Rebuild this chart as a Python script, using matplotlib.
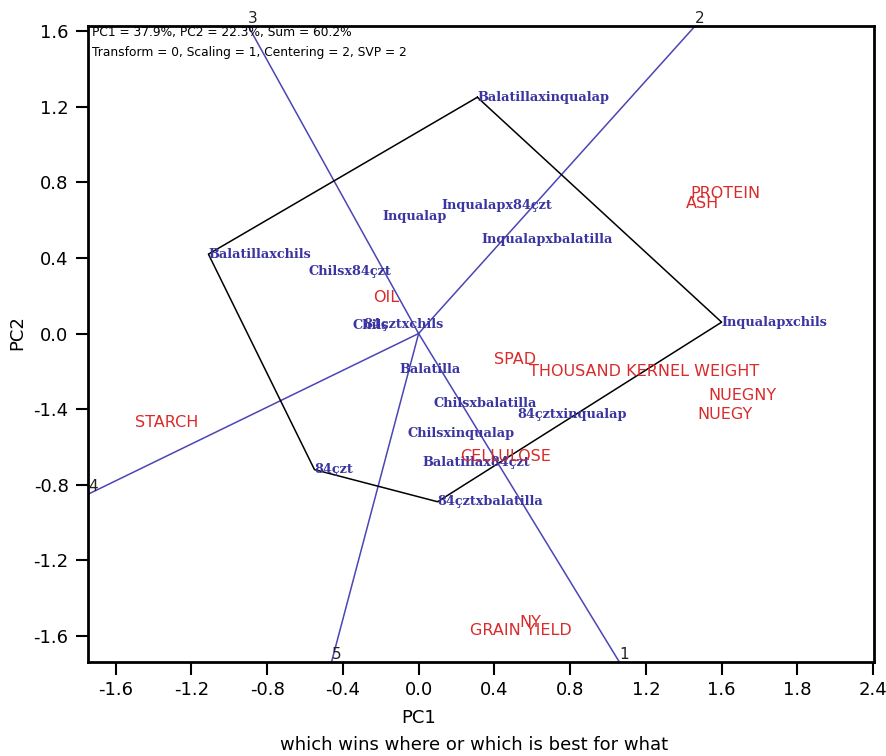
import matplotlib.pyplot as plt

# genotype scores (label anchor = point)
gen_names = ["Balatillaxinqualap", "Inqualapxchils", "84çztxbalatilla", "84çzt",
             "Balatillaxchils", "Inqualap", "Inqualapx84çzt", "Inqualapxbalatilla",
             "Chilsx84çzt", "Chils", "84çztxchils", "Balatilla", "Chilsxbalatilla",
             "84çztxinqualap", "Chilsxinqualap", "Balatillax84çzt"]
gen_x = [0.31, 1.60, 0.10, -0.55, -1.11, -0.19, 0.12, 0.33,
         -0.58, -0.35, -0.29, -0.10, 0.08, 0.52, -0.06, 0.02]
gen_y = [1.25, 0.06, -0.89, -0.72, 0.42, 0.62, 0.68, 0.50,
         0.33, 0.04, 0.05, -0.19, -0.37, -0.43, -0.53, -0.68]

# convex hull order (indices into gen_names)
hull = [0, 1, 2, 3, 4, 0]

# trait / environment scores
trait_names = ["PROTEIN", "ASH", "OIL", "SPAD", "THOUSAND KERNEL WEIGHT", "NUEGNY",
               "NUEGY", "CELLULOSE", "STARCH", "GRAIN YIELD", "NY"]
trait_x = [1.62, 1.50, -0.17, 0.51, 1.19, 1.71, 1.62, 0.46, -1.33, 0.54, 0.59]
trait_y = [0.74, 0.69, 0.19, -0.14, -0.20, -0.33, -0.43, -0.65, -0.47, -1.57, -1.53]

# sector rays from origin
ray_labels = ["1", "2", "3", "4", "5"]
ray_end_x = [1.06, 1.46, -0.90, -1.745, -0.46]
ray_end_y = [-1.738, 1.627, 1.627, -0.85, -1.738]

xticks = [-1.6, -1.2, -0.8, -0.4, 0.0, 0.4, 0.8, 1.2, 1.6, 2.0, 2.4]
xticklabels = ["-1.6", "-1.2", "-0.8", "-0.4", "0.0", "0.4", "0.8", "1.2", "1.6", "1.8", "2.4"]
yticks = [1.6, 1.2, 0.8, 0.4, 0.0, -0.4, -0.8, -1.2, -1.6]
yticklabels = ["1.6", "1.2", "0.8", "0.4", "0.0", "-1.4", "-0.8", "-1.2", "-1.6"]

blue = "#3a35a0"
line_blue = "#4a46b4"
red = "#d92b2b"

fig = plt.figure(figsize=(8.87, 7.56), dpi=100)
ax = fig.add_axes([0.0992, 0.1243, 0.8862, 0.8413])
ax.set_xlim(-1.746, 2.405)
ax.set_ylim(-1.738, 1.627)

# rays
for lab, ex, ey in zip(ray_labels, ray_end_x, ray_end_y):
    ax.plot([0, ex], [0, ey], color=line_blue, lw=1.1, zorder=2)
    ax.text(ex, ey, lab, fontsize=11, ha="left", va="bottom", color="#222222", clip_on=False)

# polygon
ax.plot([gen_x[i] for i in hull], [gen_y[i] for i in hull], color="black", lw=1.1, zorder=3)

for n, x, y in zip(gen_names, gen_x, gen_y):
    ax.text(x, y, n, color=blue, fontsize=9.3, fontweight="bold", family="DejaVu Serif",
            ha="left", va="center", zorder=4)

for n, x, y in zip(trait_names, trait_x, trait_y):
    ax.text(x, y, n, color=red, fontsize=11.5, ha="center", va="center", zorder=5)

ax.text(-1.725, 1.59, "PC1 = 37.9%, PC2 = 22.3%, Sum = 60.2%", fontsize=8.8, va="center")
ax.text(-1.725, 1.485, "Transform = 0, Scaling = 1, Centering = 2, SVP = 2", fontsize=8.8, va="center")

ax.set_xticks(xticks)
ax.set_xticklabels(xticklabels)
ax.set_yticks(yticks)
ax.set_yticklabels(yticklabels)
ax.tick_params(labelsize=13, length=9, width=1.5, pad=5, direction="out")
for s in ax.spines.values():
    s.set_linewidth(2)

fig.text(0.472, 0.05, "PC1", fontsize=13, ha="center", va="center")
fig.text(0.535, 0.014, "which wins where or which is best for what", fontsize=13, ha="center", va="center")
fig.text(0.02, 0.56, "PC2", fontsize=13, ha="center", va="center", rotation=90)

fig.savefig("out.png", dpi=100)
